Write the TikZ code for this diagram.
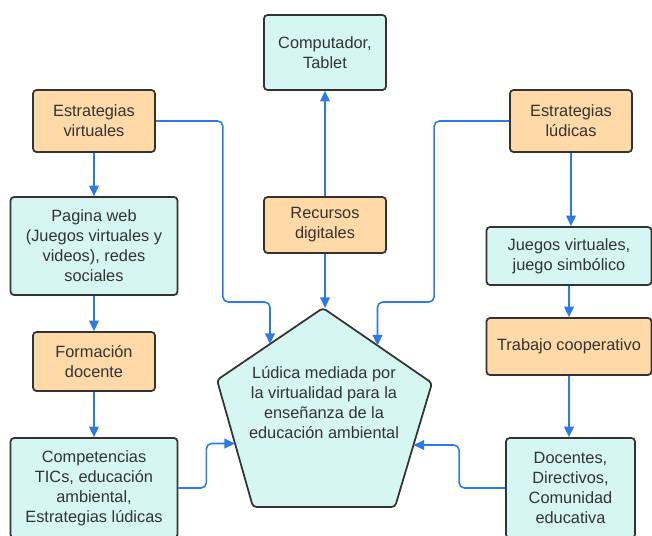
\documentclass[tikz,border=0pt]{standalone}
\usepackage{fontspec}
\setmainfont{Liberation Sans}
\usepackage{xcolor}
\definecolor{boxOrange}{HTML}{FFD9A8}
\definecolor{boxTeal}{HTML}{D5F6F2}
\definecolor{lineBlue}{HTML}{2C7BE5}
\definecolor{edgeGray}{HTML}{333333}
\usepackage{tikz}
\usetikzlibrary{arrows.meta, positioning, calc}

\begin{document}
\begin{tikzpicture}[
  x=0.02cm, y=-0.02cm,
  box/.style={draw=edgeGray, rounded corners=2pt, line width=1pt,
    font=\fontsize{9.3}{11.4}\selectfont, text=edgeGray, align=center,
    inner sep=0pt},
  orange/.style={box, fill=boxOrange},
  teal/.style={box, fill=boxTeal},
  arr/.style={-{Triangle[length=6pt, width=5.5pt]}, line width=0.9pt,
    color=lineBlue, rounded corners=3pt}
]
  \useasboundingbox (0,0) rectangle (652,535);

  % Top: devices
  \node[teal, minimum width=2.44cm, minimum height=1.5cm] (comp) at (325,52.5)
    {Computador,\\Tablet};
  \node[orange, minimum width=2.44cm, minimum height=1.12cm] (recur) at (325,225)
    {Recursos\\digitales};

  % Left column
  \node[orange, minimum width=2.44cm, minimum height=1.24cm] (estv) at (94,121)
    {Estrategias\\virtuales};
  \node[teal, minimum width=3.34cm, minimum height=1.96cm] (web) at (94,246)
    {Pagina web\\(Juegos virtuales y\\videos), redes\\sociales};
  \node[orange, minimum width=2.44cm, minimum height=1.18cm] (form) at (94,361.5)
    {Formación\\docente};
  \node[teal, minimum width=3.34cm, minimum height=2.0cm] (compet) at (94,488)
    {Competencias\\TICs, educación\\ambiental,\\Estrategias lúdicas};

  % Right column
  \node[orange, minimum width=2.44cm, minimum height=1.24cm] (estl) at (571,121)
    {Estrategias\\lúdicas};
  \node[teal, minimum width=3.3cm, minimum height=1.16cm] (juegos) at (569,256)
    {Juegos virtuales,\\juego simbólico};
  \node[orange, minimum width=3.3cm, minimum height=1.14cm] (trab) at (569,346.5)
    {Trabajo cooperativo};
  \node[teal, minimum width=2.58cm, minimum height=2.0cm] (docen) at (570.5,488)
    {Docentes,\\Directivos,\\Comunidad\\educativa};

  % Center pentagon
  \coordinate (ptop) at (323,308);
  \coordinate (pul) at (217,380);
  \coordinate (pur) at (432,383);
  \coordinate (pbl) at (253,507);
  \coordinate (pbr) at (395,507);
  \draw[draw=edgeGray, fill=boxTeal, line width=1pt, rounded corners=2pt]
    (ptop) -- (pur) -- (pbr) -- (pbl) -- (pul) -- cycle;
  \node[font=\fontsize{9.3}{11.4}\selectfont, text=edgeGray, align=center]
    (ludica) at (324,403)
    {Lúdica mediada por\\la virtualidad para la\\enseñanza de la\\educación ambiental};
  \coordinate (sideUL) at ($(ptop)!0.5!(pul)$);
  \coordinate (sideUR) at ($(ptop)!0.5!(pur)$);
  \coordinate (sideL) at ($(pul)!0.5!(pbl)$);
  \coordinate (sideR) at ($(pur)!0.5!(pbr)$);

  % Arrows
  \draw[arr] (recur.north) -- (comp.south);
  \draw[arr] (recur.south) -- (recur.south |- ptop);
  \draw[arr] (estv.south) -- (estv.south |- web.north);
  \draw[arr] (web.south) -- (web.south |- form.north);
  \draw[arr] (form.south) -- (form.south |- compet.north);
  \draw[arr] (estl.south) -- (estl.south |- juegos.north);
  \draw[arr] (juegos.south) -- (juegos.south |- trab.north);
  \draw[arr] (trab.south) -- (trab.south |- docen.north);
  \draw[arr] (estv.east) -- ++(67,0) -- ++(0,181) -| (sideUL);
  \draw[arr] (estl.west) -- ++(-75,0) -- ++(0,181) -| (sideUR);
  \draw[arr] (compet.east) -- ++(28,0) |- (sideL);
  \draw[arr] (docen.west) -- ++(-46,0) |- (sideR);
\end{tikzpicture}
\end{document}
